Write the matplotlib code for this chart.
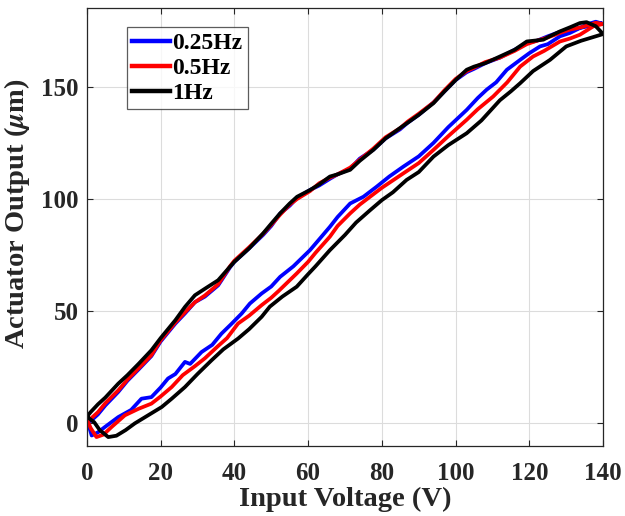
import matplotlib
matplotlib.use("Agg")
import matplotlib.pyplot as plt
import numpy as np

# ---- data ----
# ascending branches (voltage increasing)
blue_up_x = [0, 1.3, 3, 4.9, 8.5, 12, 14.8, 17.5, 20, 22, 24, 26.6, 28, 31.1, 34, 36.5, 39, 42, 44.2, 47.4,
             50, 52.4, 56, 60.5, 63, 65.9, 68, 71.4, 75, 78.6, 82, 85.8, 90, 94, 98, 103, 106, 108.4, 111,
             113.9, 117.5, 120, 122.9, 125, 128.3, 131, 133.7, 136, 139.2, 140]
blue_up_y = [2.0, -5.4, -4, -1.6, 2.8, 6, 11, 11.7, 16, 20, 22, 27.4, 26.5, 31.8, 35, 40, 44, 49, 53.4, 57.9,
             61, 65.3, 70, 77.2, 82, 87.6, 92, 98, 101, 105.5, 110, 114.4, 119, 125, 132, 139.7, 145, 148.7, 152,
             157.6, 162, 165, 168, 169, 172.5, 174, 176.2, 177, 178.4, 178]

red_up_x = [0, 1, 2.6, 4.5, 6.7, 10.3, 14, 17.5, 20, 23, 26, 29.3, 32, 35.6, 38, 41, 44, 47.4, 50, 52, 56.9,
            60, 62, 65.9, 68, 71.4, 74, 76.8, 80, 85.8, 90, 94, 98, 103, 106, 110.2, 114, 117.5, 121, 124,
            128.3, 131, 133.7, 137.4, 140]
red_up_y = [2.0, -2, -6.1, -5, -1.6, 3.6, 6.5, 8.8, 12, 16.2, 21.5, 25.5, 29, 34.5, 38, 44.5, 48, 52.7, 56, 59, 66.8,
            72, 76, 83.2, 88, 93.6, 97.5, 101, 105, 111.4, 116, 121.9, 128, 135.3, 140, 145.7, 152, 159, 163.5, 166,
            170.2, 171.5, 173.2, 177, 178]

black_up_x = [0, 2, 3.5, 5.8, 8, 10.5, 13, 16, 20.3, 23, 26.6, 30, 33.8, 37, 41, 44, 47.4, 49.6, 53, 56.9,
              60, 62, 65.9, 70, 73, 76.8, 80, 83, 86.7, 90, 94, 98, 103, 107, 112, 115, 117.5, 121, 125.6,
              130, 134, 137, 140]
black_up_y = [3, 0.5, -3, -6.1, -5.5, -3, 0, 3, 7.3, 11, 16.2, 22, 28.1, 33, 37.8, 42, 47.5, 52, 56.5, 60.9,
              66.5, 70, 77.2, 84, 89.5, 95, 99.5, 103, 108.5, 112, 118.9, 124, 129.3, 135, 144, 148, 151.6, 157, 162,
              168, 170.5, 172, 173.5]

# descending branches (voltage decreasing)
down_x = [140, 138, 136, 134, 131, 128.3, 125, 122, 119.3, 116, 112, 108, 105, 103, 100, 97, 94, 90, 87, 84.9,
          81, 77.7, 74, 71.4, 68, 65.9, 63, 60.5, 57, 55, 52.4, 50, 47.8, 44, 40, 38.8, 35.6, 32, 29.3, 26.6,
          24, 20, 17.5, 14, 11, 8.5, 5, 3, 1, 0]
blue_down_y = [178, 179, 178, 176.5, 175, 174.5, 172.5, 170.5, 169.5, 166.5, 163, 160.5, 158, 156.5, 153, 148, 143,
               137.5, 134, 131, 127, 122, 118, 113.5, 111, 109, 106, 104, 100.5, 97, 93.5, 88, 84, 78, 72, 69.5,
               61.5, 56.5, 54, 49, 44.5, 36.5, 30, 24, 19, 14, 8, 4, 1, 2]
red_down_y = [178, 178.5, 177.5, 176.5, 175.5, 174, 172, 170.5, 169, 166, 163, 161, 158.5, 157, 153.5, 148.5, 143,
              138, 134.5, 131.5, 127.5, 122.5, 117.5, 114, 111, 109.5, 107, 103.5, 100, 97.5, 93, 88.5, 84.5, 78.5,
              72.5, 70, 62, 57, 54, 49.5, 45, 37, 30.4, 24.5, 19.5, 14.7, 9, 5, 2, 2]
black_down_x = [140, 138, 135.5, 133.7, 131, 128.3, 125.5, 123.8, 121, 119.3, 116, 112, 108, 105, 103, 100, 97, 94,
                90, 87, 84.9, 81, 77.7, 74, 71.4, 68, 65.9, 63, 60.5, 57, 55, 52.4, 50, 47.8, 44, 40, 38.8, 35.6,
                32, 29.3, 26.6, 24, 20, 17.5, 14, 11, 8.5, 5, 3, 1, 0]
black_down_y = [173.5, 177, 178.8, 178.4, 176.5, 174.7, 172.5, 171, 170.5, 170.2, 166.5, 163.5, 160.5, 159, 157.6,
                153, 148, 142.7, 137.5, 134, 131.6, 127, 121.9, 117, 113, 111, 110, 106.5, 104, 101, 98, 93.6, 89,
                84.7, 78, 72, 69.8, 63.8, 60, 57.1, 51.9, 46, 38, 32.6, 26.5, 21.5, 17.7, 11.5, 8.5, 5, 3]

labels = ["0.25Hz", "0.5Hz", "1Hz"]
xticks = [0, 20, 40, 60, 80, 100, 120, 140]
yticks = [0, 50, 100, 150]

# ---- styling ----
plt.rcParams['font.family'] = ['Liberation Serif', 'DejaVu Serif']
plt.rcParams['font.weight'] = 'bold'
plt.rcParams['mathtext.fontset'] = 'stix'

fig = plt.figure(figsize=(6.25, 5.16), dpi=100)
ax = fig.add_axes([0.139, 0.136, 0.826, 0.848])

lw = 2.7
ax.plot(blue_up_x + down_x, blue_up_y + blue_down_y, color='#0000ff', lw=lw, label=labels[0])
ax.plot(red_up_x + down_x, red_up_y + red_down_y, color='#ff0000', lw=lw, label=labels[1])
ax.plot(black_up_x + black_down_x, black_up_y + black_down_y, color='#000000', lw=lw, label=labels[2])

ax.set_xlim(0, 140)
ax.set_ylim(-10, 185)
ax.set_xticks(xticks)
ax.set_yticks(yticks)
ax.grid(True, color='#dcdcdc', lw=0.8)
ax.set_axisbelow(True)
ax.tick_params(direction='in', top=True, right=True, length=4, width=0.8,
               labelsize=18, colors='#262626')
ax.tick_params(axis='x', pad=12)
ax.tick_params(axis='y', pad=6)
for lab in ax.get_xticklabels() + ax.get_yticklabels():
    lab.set_fontweight('bold')
for s in ax.spines.values():
    s.set_color('#262626')
    s.set_linewidth(0.9)

ax.set_xlabel('Input Voltage (V)', fontsize=20.5, fontweight='bold', color='#262626', labelpad=1)
ax.set_ylabel(r'Actuator Output ($\mu$m)', fontsize=20.5, fontweight='bold', color='#262626')
ax.yaxis.set_label_coords(-0.107, 0.53)

leg = ax.legend(loc='upper left', bbox_to_anchor=(0.0775, 0.957),
                prop={'weight': 'bold', 'size': 17}, handlelength=1.6, handletextpad=0.1,
                borderpad=0.22, labelspacing=0.15, fancybox=False, borderaxespad=0)
leg.get_frame().set_edgecolor('#333333')
leg.get_frame().set_linewidth(0.9)
for line in leg.get_lines():
    line.set_linewidth(3.2)

fig.savefig('out.png', dpi=100)
